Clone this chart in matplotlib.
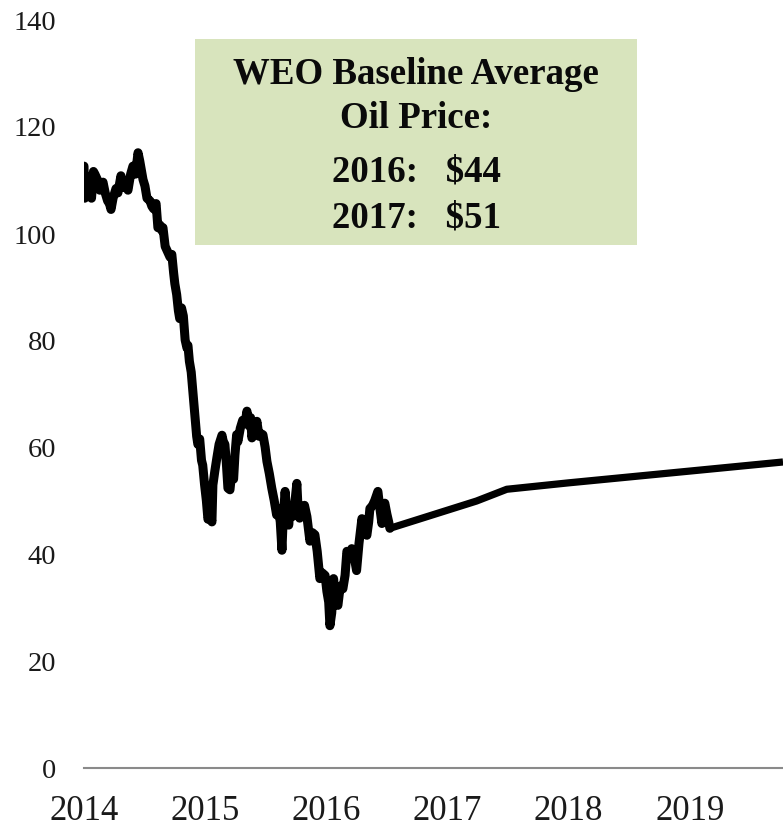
import matplotlib
matplotlib.use("Agg")
import matplotlib.pyplot as plt
from matplotlib.patches import Rectangle

# ---- data (fractional years, USD per barrel) ----
hist_years = [
    2014.000, 2014.006, 2014.018, 2014.033, 2014.050, 2014.062, 2014.078, 2014.090,
    2014.110, 2014.130, 2014.157, 2014.175, 2014.195, 2014.210, 2014.223, 2014.240,
    2014.264, 2014.280, 2014.305, 2014.325, 2014.345, 2014.363, 2014.385, 2014.404,
    2014.425, 2014.446, 2014.460, 2014.487, 2014.503, 2014.520, 2014.545, 2014.560,
    2014.575, 2014.595, 2014.610, 2014.627, 2014.640, 2014.652, 2014.670, 2014.690,
    2014.710, 2014.725, 2014.740, 2014.750, 2014.765, 2014.779, 2014.790, 2014.805,
    2014.820, 2014.835, 2014.850, 2014.858, 2014.870, 2014.885, 2014.900, 2014.915,
    2014.930, 2014.940, 2014.955, 2014.970, 2014.980, 2014.995, 2015.010, 2015.023,
    2015.040, 2015.056, 2015.064, 2015.080, 2015.097, 2015.115, 2015.139, 2015.150,
    2015.163, 2015.175, 2015.188, 2015.205, 2015.220, 2015.235, 2015.246, 2015.260,
    2015.270, 2015.290, 2015.310, 2015.330, 2015.345, 2015.360, 2015.375, 2015.386,
    2015.400, 2015.415, 2015.427, 2015.445, 2015.460, 2015.477, 2015.495, 2015.510,
    2015.530, 2015.550, 2015.570, 2015.590, 2015.605, 2015.620, 2015.634, 2015.645,
    2015.660, 2015.675, 2015.690, 2015.700, 2015.720, 2015.740, 2015.757, 2015.768,
    2015.780, 2015.800, 2015.820, 2015.840, 2015.865, 2015.885, 2015.906, 2015.925,
    2015.947, 2015.965, 2015.990, 2016.005, 2016.020, 2016.030, 2016.045, 2016.060,
    2016.070, 2016.085, 2016.096, 2016.115, 2016.137, 2016.155, 2016.170, 2016.190,
    2016.210, 2016.230, 2016.250, 2016.270, 2016.294, 2016.315, 2016.335, 2016.350,
    2016.360, 2016.380, 2016.400, 2016.426, 2016.440, 2016.459, 2016.470, 2016.483,
    2016.500, 2016.515, 2016.525,
]
hist_prices = [
    112.5, 106.5, 109.5, 107.0, 110.5, 106.5, 111.5, 111.0,
    110.0, 108.0, 109.5, 107.5, 106.0, 105.5, 104.4, 106.5,
    108.3, 107.5, 110.7, 108.5, 109.0, 108.0, 111.0, 112.5,
    111.0, 115.0, 113.5, 110.0, 108.8, 106.5, 106.0, 105.0,
    104.5, 105.5, 101.0, 101.5, 100.5, 101.0, 97.5, 96.5,
    95.5, 96.0, 92.5, 90.5, 88.5, 85.5, 84.0, 86.0,
    84.5, 80.0, 78.5, 79.0, 76.0, 74.0, 70.0, 66.0,
    62.0, 60.5, 61.5, 57.5, 56.6, 53.0, 50.0, 46.5,
    47.5, 46.0, 52.9, 55.5, 58.0, 60.5, 62.2, 61.0,
    60.5, 57.0, 52.3, 52.0, 55.5, 54.0, 58.5, 62.3,
    61.0, 63.5, 65.0, 64.5, 66.7, 64.0, 65.5, 61.7,
    63.5, 63.0, 64.8, 62.0, 62.5, 62.3, 60.0, 57.3,
    55.0, 52.3, 50.0, 47.3, 48.5, 46.0, 40.7, 47.0,
    51.7, 47.5, 45.4, 48.5, 47.0, 49.5, 53.2, 48.0,
    46.7, 48.5, 49.1, 47.0, 42.4, 44.0, 43.6, 40.5,
    35.4, 36.5, 36.0, 33.0, 31.0, 26.6, 29.0, 35.4,
    33.0, 31.0, 30.4, 34.0, 33.5, 36.0, 40.5, 39.5,
    41.0, 39.5, 36.9, 42.0, 46.6, 44.5, 43.5, 46.0,
    48.5, 49.0, 50.0, 51.7, 49.0, 45.7, 48.5, 49.5,
    47.5, 46.0, 44.8,
]

fcst_years = [2016.525, 2017.240, 2017.490, 2018.000, 2019.000, 2019.770]
fcst_prices = [44.8, 49.9, 52.1, 53.3, 55.5, 57.2]

year_ticks = [2014, 2015, 2016, 2017, 2018, 2019]
year_labels = ["2014", "2015", "2016", "2017", "2018", "2019"]
y_ticks = [0, 20, 40, 60, 80, 100, 120, 140]

box_lines = ["WEO Baseline Average", "Oil Price:", "2016:   $44", "2017:   $51"]

# ---- figure ----
W, H = 783, 828
fig = plt.figure(figsize=(W / 100, H / 100), dpi=100)
plt.rcParams['font.family'] = ['Liberation Serif', 'DejaVu Serif']

ax = fig.add_axes([84 / W, 59 / H, 699 / W, 749 / H])
ax.plot(hist_years, hist_prices, color='black', lw=6.5,
        solid_joinstyle='round', solid_capstyle='round')
ax.plot(fcst_years, fcst_prices, color='black', lw=5.2,
        solid_joinstyle='round', solid_capstyle='butt')

ax.set_xlim(2014.0, 2019.77)
ax.set_ylim(0, 140)
ax.set_xticks(year_ticks)
ax.set_xticklabels(year_labels, fontsize=25)
ax.set_yticks(y_ticks)
ax.set_yticklabels([str(v) for v in y_ticks], fontsize=20.5)
ax.tick_params(axis='both', length=0, colors='#1a1a1a')
ax.tick_params(axis='y', pad=20)
ax.tick_params(axis='x', pad=19)
for s in ['top', 'right', 'left']:
    ax.spines[s].set_visible(False)
ax.spines['bottom'].set_color('#8a8a8a')
ax.spines['bottom'].set_linewidth(1.5)

# ---- annotation box ----
bx0, bx1, by0, by1 = 195, 637, 40, 246
fig.patches.append(Rectangle((bx0 / W, 1 - by1 / H), (bx1 - bx0) / W, (by1 - by0) / H,
                             transform=fig.transFigure, facecolor='#d8e4bd',
                             edgecolor='none', zorder=5))
baselines = [84, 128, 182, 228]
for txt, yb in zip(box_lines, baselines):
    fig.text(416 / W, 1 - yb / H, txt, ha='center', va='baseline',
             fontsize=26.6, fontweight='bold', color='#0a0a0a', zorder=6)

fig.savefig('out.png', dpi=100)
